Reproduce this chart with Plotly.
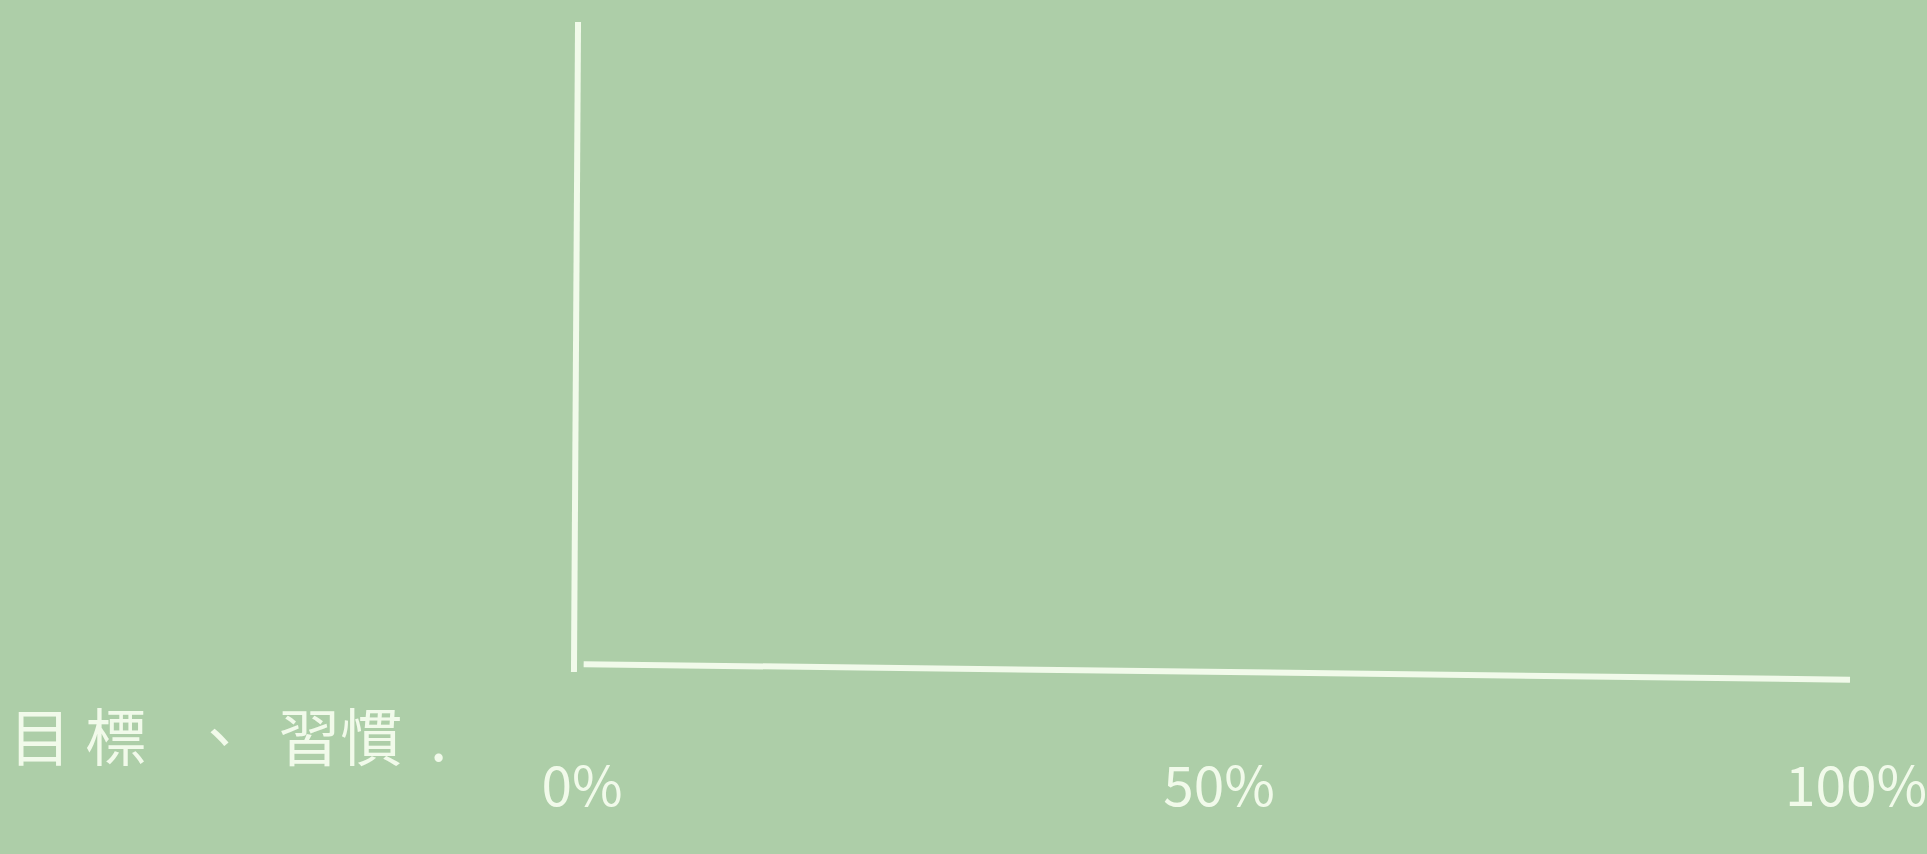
import plotly.graph_objects as go

# Data: empty progress chart (axis ticks only)
tick_values = [0, 50, 100]
tick_labels = ["0%", "50%", "100%"]
category_label = "目\u00a0標\u00a0\u00a0\u00a0、\u00a0\u00a0習慣\u00a0\u00a0."
progress_values = []  # no bars drawn in the reference
progress_categories = []

BG = "#ADCEA8"
INK = "#F1FAEA"
FONT = "Noto Sans CJK TC"

fig = go.Figure()
fig.add_trace(go.Bar(x=progress_values, y=progress_categories, orientation="h",
                     marker_color=INK, showlegend=False))

fig.update_layout(
    width=1927, height=854,
    paper_bgcolor=BG, plot_bgcolor=BG,
    margin=dict(l=576, r=77, t=22, b=184, autoexpand=False),
    font=dict(family=FONT, color=INK),
    showlegend=False,
    xaxis=dict(
        range=[0, 100], tickvals=tick_values, ticktext=tick_labels,
        showgrid=False, zeroline=False, showline=False,
        ticks="", tickfont=dict(size=55, color=INK, family=FONT),
        ticklabelstandoff=80, ticklabelshift=6, ticklabeloverflow="allow",
        automargin=False, fixedrange=True,
    ),
    yaxis=dict(
        range=[0, 1], showgrid=False, zeroline=False, showline=False,
        showticklabels=False, ticks="", automargin=False, fixedrange=True,
    ),
)

# hand-drawn axis strokes (slightly tilted, as in the sketch)
fig.add_shape(type="line", xref="paper", yref="paper",
              x0=0.0016, y0=1.0, x1=-0.0016, y1=-0.003,
              line=dict(color=INK, width=6))
fig.add_shape(type="line", xref="paper", yref="paper",
              x0=0.006, y0=0.009, x1=1.0, y1=-0.015,
              line=dict(color=INK, width=6))

# category label at bottom-left
fig.add_annotation(text=category_label, xref="paper", yref="paper",
                   x=-0.447, y=-0.026, xanchor="left", yanchor="top",
                   showarrow=False,
                   font=dict(size=62, color=INK, family=FONT))

fig.write_html(
    "out.html",
    config={"displayModeBar": False},
    post_script="document.body.style.margin='0';document.body.style.background='%s';"
                "document.body.style.overflow='hidden';" % BG,
)
